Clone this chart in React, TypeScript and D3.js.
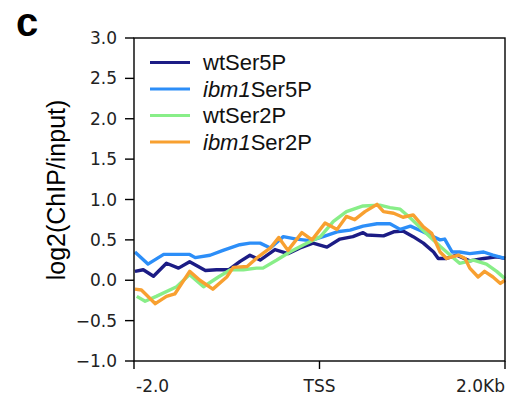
import React from "react";
import * as d3 from "d3";

// ---- data (x in kb relative to TSS, y = log2(ChIP/input)) ----
const seriesNames = ["wtSer5P", "ibm1Ser5P", "wtSer2P", "ibm1Ser2P"];
const seriesColors = ["#1c1c85", "#2c8ef8", "#88ee88", "#f8a030"];

const wtSer5P_x = [-1.99, -1.9, -1.79, -1.65, -1.52, -1.4, -1.23, -1.11, -0.98, -0.86, -0.75, -0.64, -0.48, -0.34, -0.21, -0.07, 0.08, 0.22, 0.36, 0.47, 0.51, 0.69, 0.8, 0.9, 1.01, 1.12, 1.23, 1.28, 1.37, 1.48, 1.62, 1.77, 1.91, 2.0];
const wtSer5P_y = [0.11, 0.13, 0.05, 0.21, 0.15, 0.23, 0.12, 0.13, 0.13, 0.23, 0.31, 0.25, 0.38, 0.33, 0.4, 0.46, 0.41, 0.51, 0.54, 0.59, 0.56, 0.55, 0.6, 0.61, 0.54, 0.46, 0.35, 0.27, 0.27, 0.31, 0.24, 0.27, 0.29, 0.27];

const ibm1Ser5P_x = [-1.99, -1.85, -1.68, -1.54, -1.4, -1.34, -1.18, -1.04, -0.86, -0.75, -0.64, -0.53, -0.39, -0.25, -0.1, 0.04, 0.19, 0.33, 0.47, 0.62, 0.76, 0.87, 0.98, 1.08, 1.19, 1.3, 1.35, 1.43, 1.51, 1.62, 1.77, 1.87, 2.0];
const ibm1Ser5P_y = [0.35, 0.2, 0.32, 0.32, 0.32, 0.28, 0.31, 0.37, 0.44, 0.46, 0.46, 0.4, 0.54, 0.51, 0.49, 0.54, 0.6, 0.62, 0.67, 0.7, 0.7, 0.63, 0.67, 0.62, 0.56, 0.5, 0.51, 0.35, 0.35, 0.33, 0.35, 0.31, 0.27];

const wtSer2P_x = [-1.97, -1.88, -1.76, -1.54, -1.4, -1.25, -1.09, -0.96, -0.82, -0.68, -0.61, -0.46, -0.32, -0.17, 0.01, 0.15, 0.29, 0.47, 0.65, 0.76, 0.87, 0.98, 1.08, 1.19, 1.3, 1.41, 1.51, 1.66, 1.8, 1.91, 2.0];
const wtSer2P_y = [-0.2, -0.26, -0.2, -0.08, 0.07, -0.08, 0.04, 0.13, 0.13, 0.15, 0.15, 0.25, 0.35, 0.44, 0.54, 0.73, 0.85, 0.92, 0.93, 0.9, 0.88, 0.77, 0.66, 0.54, 0.42, 0.31, 0.21, 0.25, 0.2, 0.11, 0.02];

const ibm1Ser2P_x = [-1.99, -1.92, -1.77, -1.65, -1.56, -1.4, -1.29, -1.15, -1.0, -0.93, -0.78, -0.66, -0.53, -0.44, -0.34, -0.19, -0.08, 0.06, 0.19, 0.29, 0.38, 0.49, 0.62, 0.69, 0.8, 0.9, 1.01, 1.12, 1.21, 1.3, 1.37, 1.5, 1.57, 1.62, 1.71, 1.78, 1.87, 1.95, 2.0];
const ibm1Ser2P_y = [-0.11, -0.12, -0.29, -0.2, -0.17, 0.11, 0.0, -0.11, 0.04, 0.16, 0.17, 0.29, 0.4, 0.53, 0.37, 0.59, 0.5, 0.71, 0.63, 0.79, 0.75, 0.85, 0.94, 0.85, 0.83, 0.78, 0.81, 0.66, 0.58, 0.35, 0.27, 0.31, 0.27, 0.15, 0.04, 0.11, 0.04, -0.04, 0.0];

const yTicks = [-1.0, -0.5, 0.0, 0.5, 1.0, 1.5, 2.0, 2.5, 3.0];
const xTicks = [-2, 0, 2];
const xTickLabels = ["-2.0", "TSS", "2.0Kb"];

const seriesX = [wtSer5P_x, ibm1Ser5P_x, wtSer2P_x, ibm1Ser2P_x];
const seriesY = [wtSer5P_y, ibm1Ser5P_y, wtSer2P_y, ibm1Ser2P_y];

export default function App() {
  const W = 507, H = 398;
  const left = 134, right = 505, top = 38, bottom = 361;
  const x = d3.scaleLinear().domain([-2, 2]).range([left, right]);
  const y = d3.scaleLinear().domain([-1, 3]).range([bottom, top]);
  const fmt = d3.format(".1f");
  const line = d3.line<[number, number]>().x(d => x(d[0])).y(d => y(d[1]));

  const tickFont = "DejaVu Sans, sans-serif";
  const arial = "Liberation Sans, Arial, sans-serif";

  const legendY0 = 62.5, legendDy = 26.5;

  return (
    <svg width={W} height={H} style={{ position: "absolute", left: 0, top: 0, background: "#fff" }}>
      <text x={16} y={36} fontFamily={arial} fontWeight="bold" fontSize={40} fill="#000">c</text>

      {/* series */}
      {seriesNames.map((n, i) => {
        const pts = seriesX[i].map((v, j) => [v, seriesY[i][j]] as [number, number]);
        return <path key={n} d={line(pts) || ""} fill="none" stroke={seriesColors[i]} strokeWidth={3.4} strokeLinejoin="round" />;
      })}

      {/* frame */}
      <rect x={left} y={top} width={right - left} height={bottom - top} fill="none" stroke="#000" strokeWidth={1.4} />

      {/* y axis */}
      {yTicks.map(t => (
        <g key={t}>
          <line x1={left - 9} x2={left} y1={y(t)} y2={y(t)} stroke="#000" strokeWidth={1.4} />
          <text x={left - 17} y={y(t)} dy="0.36em" textAnchor="end" fontFamily={tickFont} fontSize={17} fill="#222">{fmt(t)}</text>
        </g>
      ))}

      {/* x axis */}
      {xTicks.map((t, i) => (
        <g key={t}>
          <line x1={x(t)} x2={x(t)} y1={bottom} y2={bottom + 8} stroke="#000" strokeWidth={1.4} />
          <text x={i === 0 ? x(t) + 2 : x(t)} y={392} textAnchor={i === 0 ? "start" : i === xTicks.length - 1 ? "end" : "middle"} fontFamily={tickFont} fontSize={17} fill="#222">{xTickLabels[i]}</text>
        </g>
      ))}

      <text transform={`translate(65,190) rotate(-90)`} textAnchor="middle" fontFamily={arial} fontSize={25} fill="#000">log2(ChIP/input)</text>

      {/* legend */}
      {seriesNames.map((n, i) => {
        const ly = legendY0 + i * legendDy;
        const italicPart = n.startsWith("ibm1") ? "ibm1" : "";
        const rest = italicPart ? n.slice(4) : n;
        return (
          <g key={n}>
            <line x1={150} x2={190} y1={ly} y2={ly} stroke={seriesColors[i]} strokeWidth={3.2} />
            <text x={203} y={ly + 7.5} fontFamily={arial} fontSize={22} fill="#111">
              {italicPart && <tspan fontStyle="italic">{italicPart}</tspan>}
              <tspan>{rest}</tspan>
            </text>
          </g>
        );
      })}
    </svg>
  );
}
